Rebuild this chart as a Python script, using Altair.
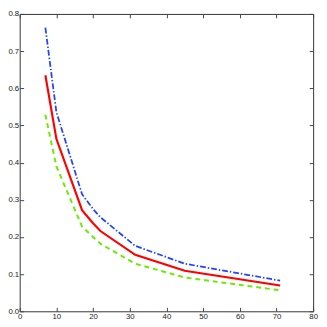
import altair as alt
import pandas as pd

x_vals = [7, 10, 17, 20, 22, 31.5, 45, 71]
red_vals = [0.635, 0.464, 0.272, 0.237, 0.216, 0.152, 0.109, 0.0695]
blue_vals = [0.763, 0.536, 0.315, 0.275, 0.253, 0.176, 0.128, 0.0825]
green_vals = [0.529, 0.390, 0.228, 0.200, 0.182, 0.128, 0.091, 0.0565]

x_ticks = [0, 10, 20, 30, 40, 50, 60, 70, 80]
y_ticks = [0, 0.1, 0.2, 0.3, 0.4, 0.5, 0.6, 0.7, 0.8]

df = pd.DataFrame({"x": x_vals, "red": red_vals, "blue": blue_vals, "green": green_vals})

xs = alt.Scale(domain=[0, 80], nice=False, zero=False)
ys = alt.Scale(domain=[0, 0.8], nice=False, zero=False)

FONT = "Liberation Sans"

def xaxis(orient, labels):
    return alt.Axis(orient=orient, values=x_ticks, labels=labels, title=None, grid=False,
                    domain=False, ticks=True, tickSize=4, offset=-4, tickColor="#444444",
                    labelFont=FONT, labelFontSize=8, labelColor="#222222", labelPadding=1,
                    labelFlush=False, labelOverlap=False)

def yaxis(orient, labels):
    return alt.Axis(orient=orient, values=y_ticks, labels=labels, title=None, grid=False,
                    domain=False, ticks=True, tickSize=4, offset=-4, tickColor="#444444",
                    labelFont=FONT, labelFontSize=8, labelColor="#222222", labelPadding=1,
                    labelFlush=False, labelOverlap=False)

base = alt.Chart(df)

blue = base.mark_line(color="#2244ff", strokeWidth=1.8, strokeDash=[6, 2, 1.5, 2]).encode(
    x=alt.X("x:Q", scale=xs, axis=xaxis("bottom", True)),
    y=alt.Y("blue:Q", scale=ys, axis=yaxis("left", True)),
)
red = base.mark_line(color="#ff0000", strokeWidth=2.2).encode(
    x=alt.X("x:Q", scale=xs, axis=xaxis("top", False)),
    y=alt.Y("red:Q", scale=ys, axis=yaxis("right", False)),
)
green = base.mark_line(color="#66ee00", strokeWidth=2, strokeDash=[5, 4]).encode(
    x=alt.X("x:Q", scale=xs, axis=None),
    y=alt.Y("green:Q", scale=ys, axis=None),
)

chart = alt.layer(blue, red, green).properties(
    width=301, height=305,
    autosize=alt.AutoSizeParams(type="none"),
    padding={"left": 12, "top": 2, "right": 6, "bottom": 12},
).configure(background="white").configure_view(stroke="#333333", strokeWidth=1)

chart.save("out.html", embed_options={"renderer": "svg", "actions": False})
